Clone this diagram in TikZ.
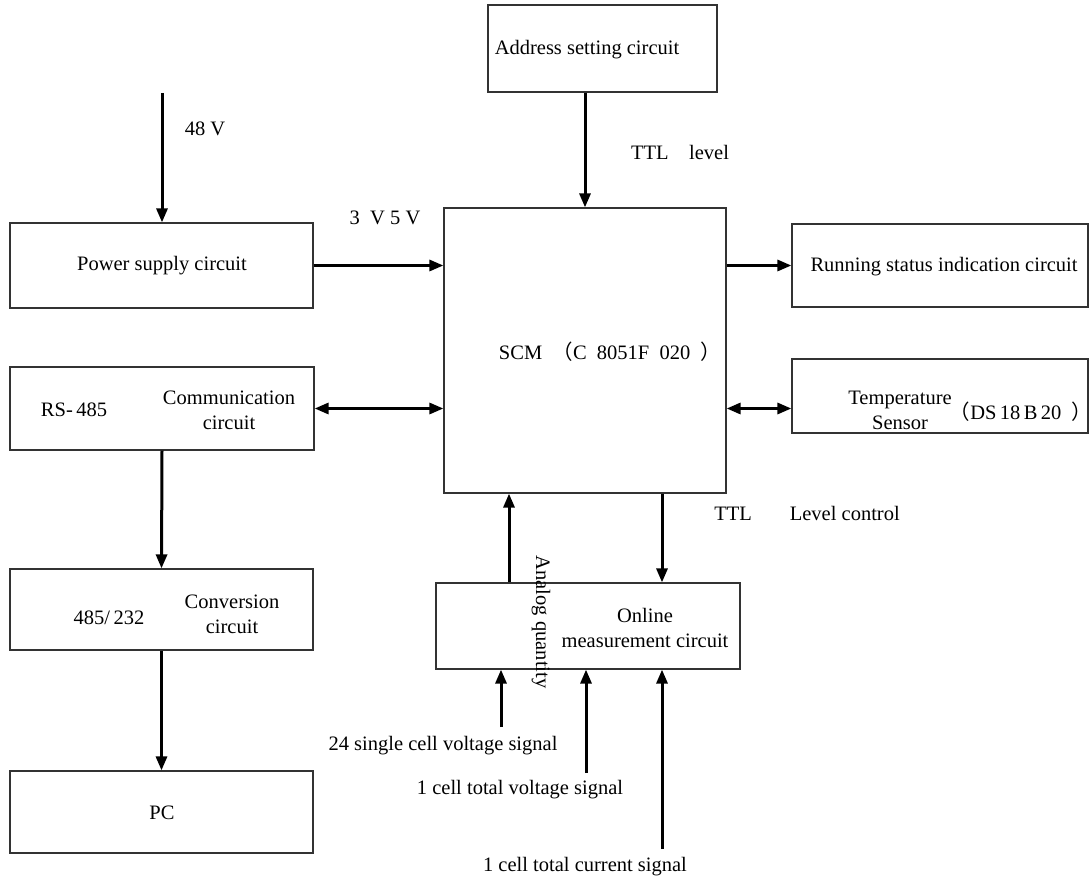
\documentclass[tikz,border=0pt]{standalone}
\usepackage{fontspec}
\setmainfont{Liberation Serif}
\newfontfamily\cjk{Noto Sans CJK SC}
\usetikzlibrary{arrows.meta}

\begin{document}
\begin{tikzpicture}[x=0.5pt,y=-0.5pt,
  font=\fontsize{10.25}{12.5}\selectfont,
  block/.style={draw=black!80, line width=0.6pt, inner sep=0pt},
  txt/.style={inner sep=0pt, align=center},
  sig/.style={line width=1.5pt, -{Triangle[length=7pt,width=5.5pt]}},
  bisig/.style={line width=1.5pt, {Triangle[length=7pt,width=5.5pt]}-{Triangle[length=7pt,width=5.5pt]}}]
\useasboundingbox (0,0) rectangle (1090,881);
% blocks
\node (addr) [block, minimum width=114.5pt, minimum height=43.5pt] at (602.5,48.5) {};
\node (pow) [block, minimum width=151.5pt, minimum height=42.5pt] at (161.5,265.5) {};
\node (scm) [block, minimum width=141pt, minimum height=142.5pt] at (585,350.5) {};
\node (run) [block, minimum width=148pt, minimum height=41.5pt] at (940,265.5) {};
\node (temp) [block, minimum width=148pt, minimum height=37pt] at (940,396) {};
\node (comm) [block, minimum width=152pt, minimum height=41.5pt] at (162,408.5) {};
\node (conv) [block, minimum width=151.5pt, minimum height=40.5pt] at (161.5,609.5) {};
\node (pc) [block, minimum width=151.5pt, minimum height=41pt] at (161.5,812) {};
\node (onl) [block, minimum width=152pt, minimum height=43pt] at (588,626) {};
% texts in blocks
\node (addrt) [txt] at (587,50) {Address setting circuit};
\node (powt) [txt] at (162,266) {Power supply circuit};
\node (scmt) [txt] at (610,352) {SCM\enspace{\cjk （}C\enspace 8051F\enspace 020\enspace{\cjk ）}};
\node (runt) [txt] at (944,267) {Running status indication circuit};
\node (tempt) [txt] at (900,410) {Temperature\\Sensor};
\node (dst) [txt] at (1021,412) {{\cjk （}DS\,18\,B\,20\enspace{\cjk ）}};
\node (rst) [txt] at (74,410) {RS-\,485};
\node (commt) [txt] at (229,410) {Communication\\circuit};
\node (c485) [txt] at (109,618) {485/\,232};
\node (convt) [txt] at (232,614) {Conversion\\circuit};
\node (pct) [txt] at (162,813) {PC};
\node (onlt) [txt] at (645,628) {Online\\measurement circuit};
% signal labels
\node (ana) [txt, rotate=-90] at (541,622) {Analog quantity};
\node (v48) [txt] at (205,129) {48 V};
\node (v35) [txt] at (385,218) {3\enspace V 5 V};
\node (ttl1) [txt] at (680,152) {TTL\quad level};
\node (ttl2) [txt] at (807,513) {TTL\hspace{19pt}Level control};
\node (s24) [txt] at (443,746) {24 single cell voltage signal};
\node (s1v) [txt] at (520,790) {1 cell total voltage signal};
\node (s1c) [txt] at (585,867) {1 cell total current signal};
% free ends
\coordinate (vin) at (162,93);
\coordinate (in1) at (501,727);
\coordinate (in2) at (586,773);
\coordinate (in3) at (662,849);
% connectors
\draw[sig] (vin) -- (vin |- pow.north);
\draw[sig] (addr.south -| scm.north) -- (scm.north);
\draw[sig] (pow.east) -- (pow.east -| scm.west);
\draw[sig] (scm.east |- run.west) -- (run.west);
\draw[bisig] (comm.east) -- (comm.east -| scm.west);
\draw[bisig] (scm.east |- comm.east) -- (temp.west |- comm.east);
\draw[sig] (comm.south) -- (conv.north);
\draw[sig] (conv.south) -- (pc.north);
\draw[sig] (509,0 |- onl.north) -- (509,0 |- scm.south);
\draw[sig] (662,0 |- scm.south) -- (662,0 |- onl.north);
\draw[sig] (in1) -- (in1 |- onl.south);
\draw[sig] (in2) -- (in2 |- onl.south);
\draw[sig] (in3) -- (in3 |- onl.south);
\end{tikzpicture}
\end{document}
